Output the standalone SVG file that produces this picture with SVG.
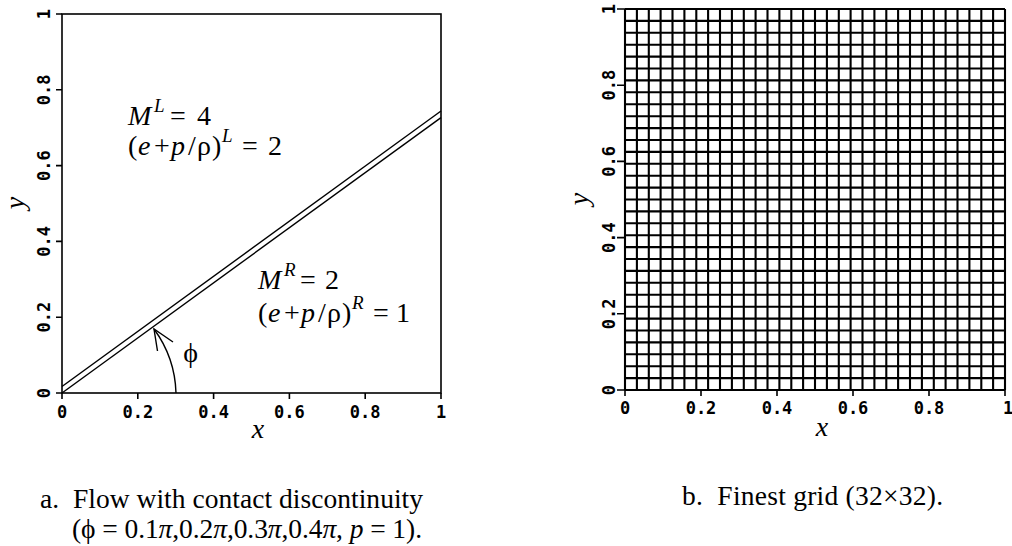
<svg xmlns="http://www.w3.org/2000/svg" width="1012" height="546" viewBox="0 0 1012 546">
<style>
.frame{fill:none;stroke:#000;stroke-width:1.6}
.tick{stroke:#000;stroke-width:1.6;fill:none}
.grid{stroke:#000;stroke-width:2.1;fill:none}
.tl{font-family:"DejaVu Sans Mono","Liberation Mono",monospace;font-weight:bold;font-size:17px;fill:#000}
.ser{font-family:"Liberation Serif","Times New Roman",serif;fill:#000}
.lab{font-size:28px}
.sup{font-size:19px}
.it{font-style:italic}
.cap{font-size:27.5px}
.line{stroke:#000;stroke-width:1.4;fill:none}
</style>
<rect width="1012" height="546" fill="#fff"/>
<g id="panel-a">
<g id="a-axes">
<rect class="frame" x="62" y="14" width="379" height="379"/>
<path class="tick" d="M56 393H62M56 317.2H62M56 241.4H62M56 165.6H62M56 89.8H62M56 14H62M62 393V399M137.8 393V399M213.6 393V399M289.4 393V399M365.2 393V399M441 393V399"/>
<g class="tl" text-anchor="middle">
<text x="62" y="418">0</text><text x="137.8" y="418">0.2</text><text x="213.6" y="418">0.4</text><text x="289.4" y="418">0.6</text><text x="365.2" y="418">0.8</text><text x="441" y="418">1</text>
<text transform="translate(50 393) rotate(-90)">0</text><text transform="translate(50 317.2) rotate(-90)">0.2</text><text transform="translate(50 241.4) rotate(-90)">0.4</text><text transform="translate(50 165.6) rotate(-90)">0.6</text><text transform="translate(50 89.8) rotate(-90)">0.8</text><text transform="translate(50 14) rotate(-90)">1</text>
</g>
<text class="ser lab it" x="258" y="438" text-anchor="middle">x</text>
<text class="ser lab it" transform="translate(24 203) rotate(-90)" text-anchor="middle">y</text>
</g>
<g id="a-discontinuity">
<line class="line" x1="62" y1="386.5" x2="441" y2="111"/>
<line class="line" x1="62" y1="393" x2="441" y2="117.6"/>
</g>
<g id="a-left-state" class="ser lab">
<text y="125"><tspan x="128" class="it">M</tspan><tspan x="154" y="112" class="sup it">L</tspan><tspan x="170" y="125">=</tspan><tspan x="197" y="125">4</tspan></text>
<text y="155"><tspan x="128">(</tspan><tspan x="138" class="it">e</tspan><tspan x="154">+</tspan><tspan x="171" class="it">p</tspan><tspan x="188">/</tspan><tspan x="197">ρ</tspan><tspan x="212">)</tspan><tspan x="222" y="142" class="sup it">L</tspan><tspan x="242" y="155">=</tspan><tspan x="268" y="155">2</tspan></text>
</g>
<g id="a-right-state" class="ser lab">
<text y="289"><tspan x="258" class="it">M</tspan><tspan x="284" y="276" class="sup it">R</tspan><tspan x="300" y="289">=</tspan><tspan x="325" y="289">2</tspan></text>
<text y="322"><tspan x="258">(</tspan><tspan x="268" class="it">e</tspan><tspan x="284">+</tspan><tspan x="301" class="it">p</tspan><tspan x="318">/</tspan><tspan x="327">ρ</tspan><tspan x="342">)</tspan><tspan x="352" y="309" class="sup it">R</tspan><tspan x="373" y="322">=</tspan><tspan x="396" y="322">1</tspan></text>
</g>
<g id="connectors">
<path class="line" d="M176 393A114 114 0 0 0 154 329"/>
<path class="line" d="M157.5 351L154 329L173 342"/>
</g>
<text id="a-phi" class="ser lab" x="190.5" y="362" text-anchor="middle">ϕ</text>
<g id="a-caption" class="ser cap">
<text x="40" y="508" textLength="383" lengthAdjust="spacing">a.&#160; Flow with contact discontinuity</text>
<text x="72" y="538" textLength="350" lengthAdjust="spacing">(ϕ = 0.1<tspan class="it">π</tspan>,0.2<tspan class="it">π</tspan>,0.3<tspan class="it">π</tspan>,0.4<tspan class="it">π</tspan>, <tspan class="it">p</tspan> = 1).</text>
</g>
</g>
<g id="panel-b">
<g id="b-grid">
<path class="grid" d="M625 9V390M636.9 9V390M648.8 9V390M660.6 9V390M672.5 9V390M684.4 9V390M696.3 9V390M708.1 9V390M720 9V390M731.9 9V390M743.8 9V390M755.6 9V390M767.5 9V390M779.4 9V390M791.3 9V390M803.1 9V390M815 9V390M826.9 9V390M838.8 9V390M850.6 9V390M862.5 9V390M874.4 9V390M886.3 9V390M898.1 9V390M910 9V390M921.9 9V390M933.8 9V390M945.6 9V390M957.5 9V390M969.4 9V390M981.3 9V390M993.1 9V390M1005 9V390"/>
<path class="grid" d="M625 9H1005M625 20.9H1005M625 32.8H1005M625 44.7H1005M625 56.6H1005M625 68.5H1005M625 80.4H1005M625 92.3H1005M625 104.3H1005M625 116.2H1005M625 128.1H1005M625 140H1005M625 151.9H1005M625 163.8H1005M625 175.7H1005M625 187.6H1005M625 199.5H1005M625 211.4H1005M625 223.3H1005M625 235.2H1005M625 247.1H1005M625 259H1005M625 270.9H1005M625 282.8H1005M625 294.8H1005M625 306.7H1005M625 318.6H1005M625 330.5H1005M625 342.4H1005M625 354.3H1005M625 366.2H1005M625 378.1H1005M625 390H1005"/>
</g>
<g id="b-axes">
<path class="tick" d="M617 390H625M617 313.8H625M617 237.6H625M617 161.4H625M617 85.2H625M617 9H625M625 390V396M701 390V396M777 390V396M853 390V396M929 390V396M1005 390V396"/>
<g class="tl" text-anchor="middle">
<text x="625" y="414">0</text><text x="701" y="414">0.2</text><text x="777" y="414">0.4</text><text x="853" y="414">0.6</text><text x="929" y="414">0.8</text><text x="1008" y="414">1</text>
<text transform="translate(615 390) rotate(-90)">0</text><text transform="translate(615 313.8) rotate(-90)">0.2</text><text transform="translate(615 237.6) rotate(-90)">0.4</text><text transform="translate(615 161.4) rotate(-90)">0.6</text><text transform="translate(615 85.2) rotate(-90)">0.8</text><text transform="translate(615 9) rotate(-90)">1</text>
</g>
<text class="ser lab it" x="822" y="436" text-anchor="middle">x</text>
<text class="ser lab it" transform="translate(588 199) rotate(-90)" text-anchor="middle">y</text>
</g>
<text id="b-caption" class="ser cap" x="682" y="505" textLength="261" lengthAdjust="spacing">b.&#160; Finest grid (32×32).</text>
</g>
</svg>
